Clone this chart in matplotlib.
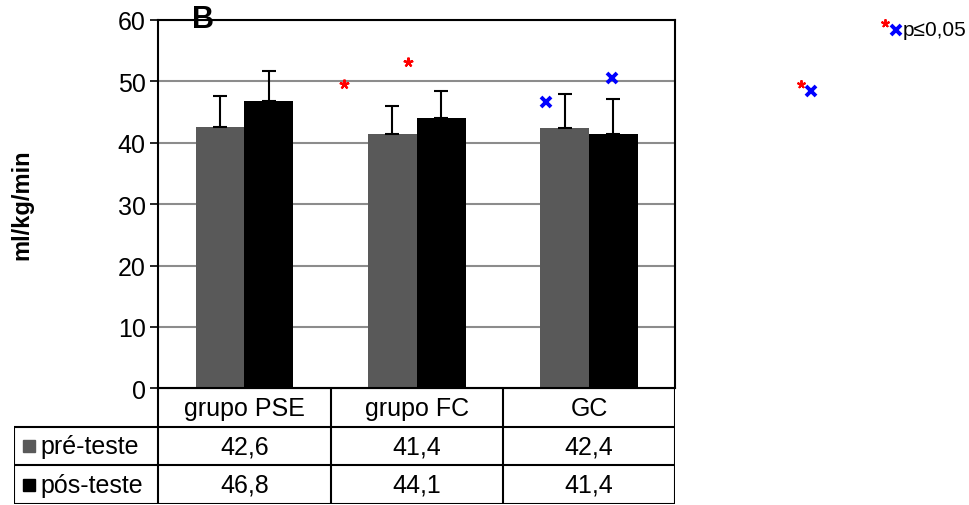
import matplotlib.pyplot as plt
from matplotlib.lines import Line2D

plt.rcParams['font.family'] = ['Liberation Sans', 'DejaVu Sans']

groups = ['grupo PSE', 'grupo FC', 'GC']
series = ['pré-teste', 'pós-teste']
pre = [42.6, 41.4, 42.4]
post = [46.8, 44.1, 41.4]
pre_sd = [5.0, 4.6, 5.5]
post_sd = [4.8, 4.4, 5.7]
pre_labels = ['42,6', '41,4', '42,4']
post_labels = ['46,8', '44,1', '41,4']

# significance marks, x in group units, y in ml/kg/min
star_x = [0.58, 0.95]
star_y = [49.6, 53.2]
cross_x = [1.75, 2.135]
cross_y = [46.7, 50.5]

pre_color = '#595959'
post_color = '#000000'
fs = 18

fig = plt.figure(figsize=(9.69, 5.06), dpi=100)
W, H = 969, 506
ax = fig.add_axes([158.3 / W, (H - 389.3) / H, (675.2 - 158.3) / W, (389.3 - 20.9) / H])

x = list(range(len(groups)))
bw = 0.283
xp = [i - bw / 2 for i in x]
xq = [i + bw / 2 for i in x]
ax.bar(xp, pre, bw, color=pre_color, zorder=2)
ax.bar(xq, post, bw, color=post_color, zorder=2)
ax.errorbar(xp, pre, yerr=[[0] * 3, pre_sd], fmt='none', ecolor='black',
            elinewidth=1.5, capsize=5, capthick=1.5, zorder=3)
ax.errorbar(xq, post, yerr=[[0] * 3, post_sd], fmt='none', ecolor='black',
            elinewidth=1.5, capsize=5, capthick=1.5, zorder=3)

ax.plot(star_x, star_y, linestyle='none', marker=(5, 2, 0), markersize=7,
        markeredgewidth=1.6, color='red', zorder=4)
ax.plot(cross_x, cross_y, linestyle='none', marker='x', markersize=7.5,
        markeredgewidth=2.8, color='blue', zorder=4)

ax.set_xlim(-0.5, 2.5)
ax.set_ylim(0, 60)
ax.set_yticks(range(0, 61, 10))
ax.set_xticks([])
ax.yaxis.grid(True, color='#8c8c8c', linewidth=1.5, zorder=1)
ax.set_axisbelow(True)
for s in ax.spines.values():
    s.set_linewidth(1.5)
    s.set_color('black')
ax.tick_params(axis='y', direction='out', length=6, width=1.2, pad=3, labelsize=fs)
ax.set_ylabel('ml/kg/min', fontsize=17, fontweight='bold')
ax.yaxis.set_label_coords((33 - 158.3) / (675.2 - 158.3), 0.5)

# data table under the axis
tab = fig.add_axes([14.3 / W, 1.0 / H, (675.2 - 14.3) / W, (505 - 389.3) / H])
tab.set_axis_off()
lab_w = (158.3 - 14.3) / 172.3
x0 = -0.5 - lab_w
tab.set_xlim(x0, 2.5)
tab.set_ylim(3, 0)
lw = 1.5
tab.hlines(0, -0.5, 2.5, color='black', linewidth=lw)
tab.hlines([1, 2, 3], x0, 2.5, color='black', linewidth=lw)
tab.vlines(x0, 1, 3, color='black', linewidth=lw)
tab.vlines([-0.5, 0.5, 1.5, 2.5], 0, 3, color='black', linewidth=lw)
for i, g in enumerate(groups):
    tab.text(i, 0.5, g, ha='center', va='center', fontsize=fs)
    tab.text(i, 1.5, pre_labels[i], ha='center', va='center', fontsize=fs)
    tab.text(i, 2.5, post_labels[i], ha='center', va='center', fontsize=fs)
for r, (name, c) in enumerate(zip(series, [pre_color, post_color])):
    tab.plot([x0 + 15 / 172.3], [r + 1.5], marker='s', markersize=9, color=c,
             linestyle='none')
    tab.text(x0 + 26 / 172.3, r + 1.5, name, ha='left', va='center', fontsize=fs)

fig.text(203 / W, 1 - 20 / H, 'B', fontsize=22, fontweight='bold', ha='center', va='center')

# outside key
for px, py, m, c, ms, mew in [(885, 24, (5, 2, 0), 'red', 6, 1.4), (896, 31, 'x', 'blue', 7, 2.8),
                              (800.7, 85, (5, 2, 0), 'red', 6, 1.4), (811, 92, 'x', 'blue', 7, 2.8)]:
    fig.add_artist(Line2D([px / W], [1 - py / H], marker=m, markersize=ms,
                          markeredgewidth=mew, color=c, linestyle='none'))
fig.text(903 / W, 1 - 30 / H, 'p≤0,05', fontsize=15, ha='left', va='center')

fig.savefig('out.png', dpi=100)
plt.close()
